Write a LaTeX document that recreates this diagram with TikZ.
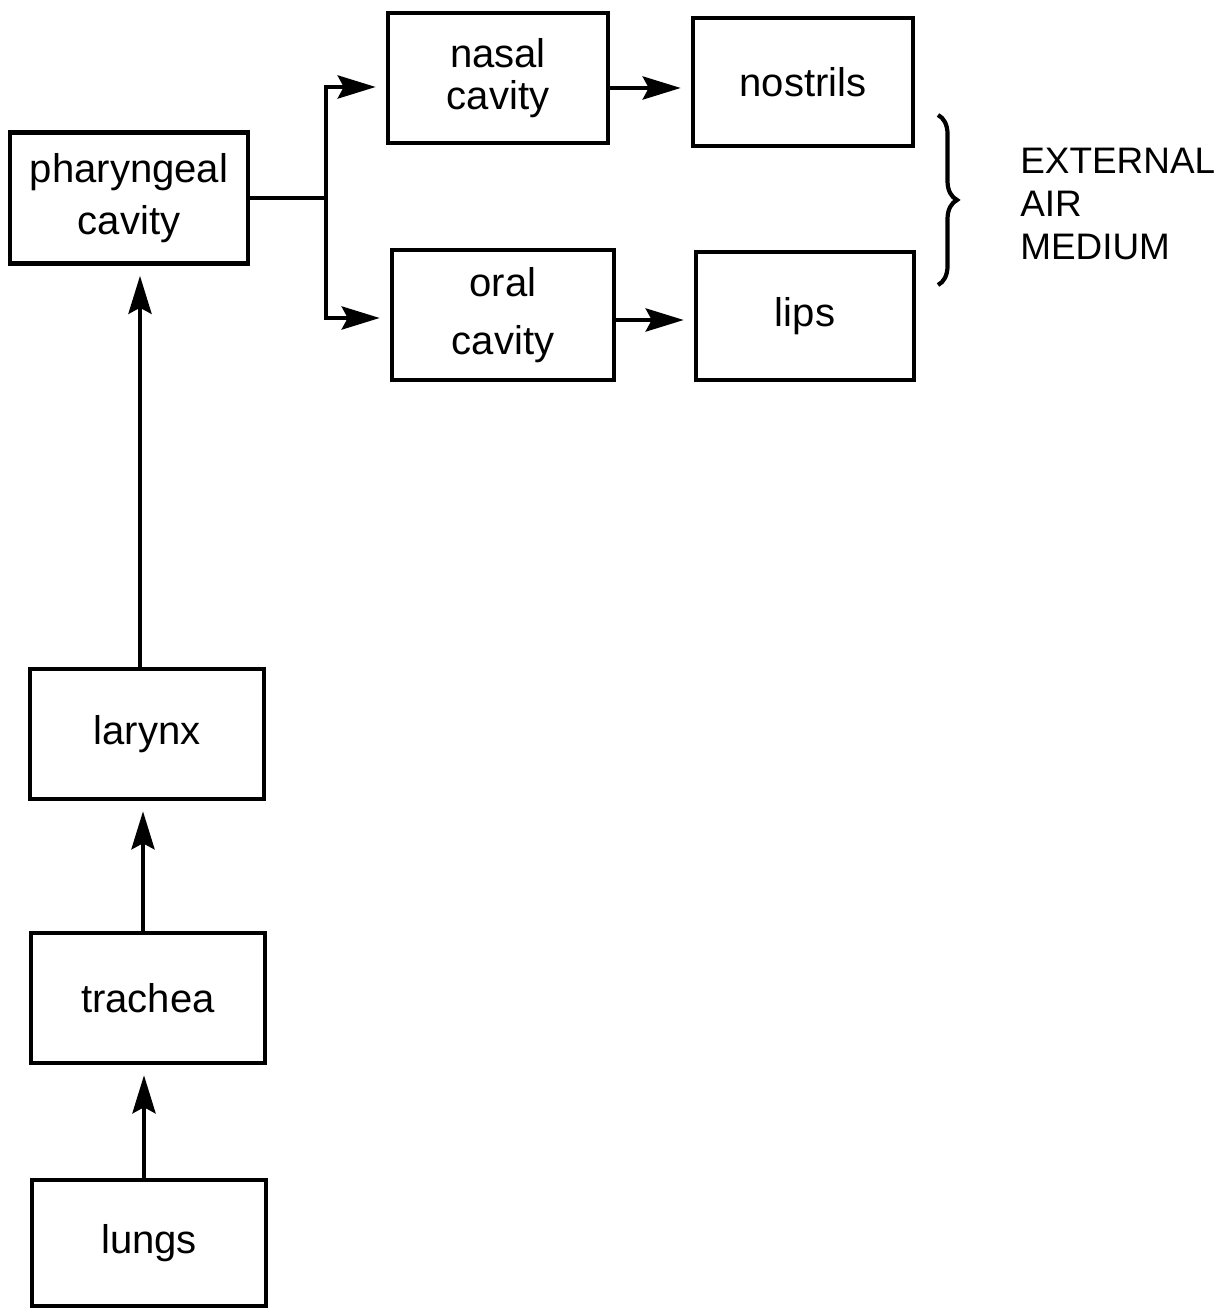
\documentclass[tikz,border=0pt]{standalone}
\usepackage{fontspec}
\setmainfont{Liberation Sans}
\usetikzlibrary{arrows.meta, decorations.pathreplacing, positioning}

\tikzset{
  organ/.style={draw, line width=2.6pt, inner sep=0pt, align=center, line join=miter},
  flow/.style={->, line width=2.6pt, shorten >=0.2cm},
}

\begin{document}
\begin{tikzpicture}[x=0.02cm, y=-0.02cm, >={Stealth[length=0.76cm, width=0.46cm, inset=0.12cm]},
    font=\fontsize{22.8pt}{23.9pt}\selectfont]
    \useasboundingbox (0,0) rectangle (1215,1310);

    % --- Pharynx and the two cavities ---
    \node[organ, minimum width=4.76cm, minimum height=2.62cm] (phar) at (129,198) {pharyngeal\\[0.2cm]cavity};
    \node[organ, minimum width=4.4cm, minimum height=2.6cm] (nasal) at (498,78) {nasal\\cavity};
    \node[organ, minimum width=4.44cm, minimum height=2.6cm] (oral) at (503,315) {oral\\[0.32cm]cavity};

    % --- Openings to the outside ---
    \node[organ, minimum width=4.4cm, minimum height=2.56cm] (nostrils) at (803,82) {nostrils};
    \node[organ, minimum width=4.36cm, minimum height=2.56cm] (lips) at (805,316) {lips};

    % --- Lower airway ---
    \node[organ, minimum width=4.68cm, minimum height=2.6cm] (larynx) at (147,734) {larynx};
    \node[organ, minimum width=4.68cm, minimum height=2.6cm] (trachea) at (148,998) {trachea};
    \node[organ, minimum width=4.68cm, minimum height=2.52cm] (lungs) at (149,1243) {lungs};

    % --- Branch point ---
    \coordinate (split) at (326,198);
    \draw[line width=2.6pt] (phar.east) -- (split);
    \draw[flow, line join=miter] (split) |- ([yshift=-0.18cm]nasal.west);
    \draw[flow, line join=miter] (split) |- ([yshift=-0.06cm]oral.west);

    % --- Cavities to openings ---
    \coordinate (nasal_out) at ([yshift=-0.2cm]nasal.east);
    \coordinate (oral_out) at ([yshift=-0.1cm]oral.east);
    \draw[flow] (nasal_out) -- (nasal_out -| nostrils.west);
    \draw[flow] (oral_out) -- (oral_out -| lips.west);

    % --- Upward flow ---
    \coordinate (lar_top) at ([xshift=-0.14cm]larynx.north);
    \coordinate (tra_top) at ([xshift=-0.1cm]trachea.north);
    \coordinate (lun_top) at ([xshift=-0.1cm]lungs.north);
    \draw[flow] (lar_top) -- (lar_top |- phar.south);
    \draw[flow] (tra_top) -- (tra_top |- larynx.south);
    \draw[flow] (lun_top) -- (lun_top |- trachea.south);

    % --- Brace and label ---
    \draw[line width=2.4pt, decorate, decoration={brace, amplitude=0.38cm}] (938,115) -- (938,285);
    \node[anchor=north west, inner sep=0pt, align=left,
          font=\fontsize{21pt}{24.5pt}\selectfont] (medium) at (1020,148) {EXTERNAL\\AIR\\MEDIUM};
\end{tikzpicture}
\end{document}
